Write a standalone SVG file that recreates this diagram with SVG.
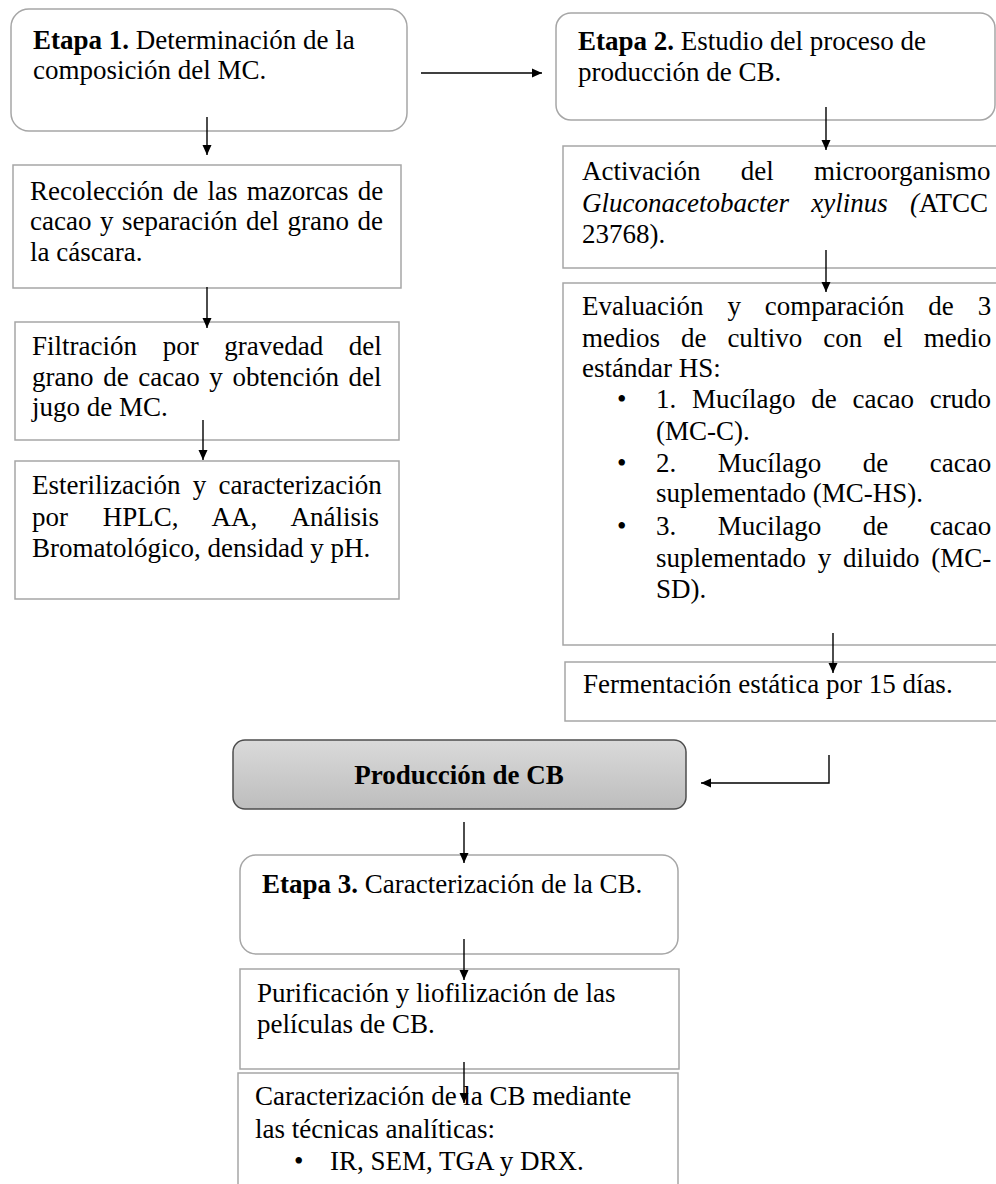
<svg xmlns="http://www.w3.org/2000/svg" width="996" height="1184" viewBox="0 0 996 1184">
<defs>
<linearGradient id="gp" x1="0" y1="0" x2="0" y2="1">
<stop offset="0" stop-color="#dadada"/>
<stop offset="1" stop-color="#bdbdbd"/>
</linearGradient>
<marker id="ah" markerWidth="10" markerHeight="10" refX="10" refY="5" orient="auto" markerUnits="userSpaceOnUse">
<path d="M0,0.5 L10,5 L0,9.5 Z" fill="#000"/>
</marker>
</defs>
<style>
text{font-family:"Liberation Serif","Times New Roman",serif;font-size:27px;fill:#000}
.b{font-weight:bold}
.i{font-style:italic}
.box{fill:#fff;stroke:#a6a6a6;stroke-width:1.5}
.cn{fill:none;stroke:#000;stroke-width:1.4}
</style>
<rect width="996" height="1184" fill="#fff"/>

<g id="etapa1">
<rect class="box" x="11" y="9" width="396" height="122" rx="18"/>
<text x="33" y="49"><tspan class="b">Etapa 1.</tspan> Determinación de la</text>
<text x="33" y="79">composición del MC.</text>
</g>

<g id="recoleccion">
<rect class="box" x="13" y="165" width="388" height="123"/>
<text x="30" y="200" word-spacing="2.5">Recolección de las mazorcas de</text>
<text x="30" y="230" word-spacing="1.8">cacao y separación del grano de</text>
<text x="30" y="261">la cáscara.</text>
</g>

<g id="filtracion">
<rect class="box" x="15" y="322" width="384" height="118"/>
<text x="32" y="355" word-spacing="18.9">Filtración por gravedad del</text>
<text x="32" y="386" word-spacing="2.9">grano de cacao y obtención del</text>
<text x="32" y="416">jugo de MC.</text>
</g>

<g id="esterilizacion">
<rect class="box" x="15" y="461" width="384" height="138"/>
<text x="32" y="494" word-spacing="5.5">Esterilización y caracterización</text>
<text x="32" y="526" word-spacing="27.9">por HPLC, AA, Análisis</text>
<text x="32" y="557">Bromatológico, densidad y pH.</text>
</g>

<g id="etapa2">
<rect class="box" x="556" y="13" width="439" height="107" rx="15"/>
<text x="578" y="50"><tspan class="b">Etapa 2.</tspan> Estudio del proceso de</text>
<text x="578" y="81">producción de CB.</text>
</g>

<g id="activacion">
<rect class="box" x="563" y="146" width="450" height="122"/>
<text x="582" y="180" word-spacing="33.5">Activación del microorganismo</text>
<text x="582" y="212" word-spacing="15.5"><tspan class="i">Gluconacetobacter xylinus (</tspan>ATCC</text>
<text x="582" y="243">23768).</text>
</g>

<g id="evaluacion">
<rect class="box" x="563" y="283" width="450" height="362"/>
<text x="582" y="315" word-spacing="17.2">Evaluación y comparación de 3</text>
<text x="582" y="347" word-spacing="14.2">medios de cultivo con el medio</text>
<text x="582" y="377">estándar HS:</text>
<text x="617" y="408">•</text>
<text x="656" y="408" word-spacing="9">1. Mucílago de cacao crudo</text>
<text x="656" y="440">(MC-C).</text>
<text x="617" y="472">•</text>
<text x="656" y="472" word-spacing="34.8">2. Mucílago de cacao</text>
<text x="656" y="502">suplementado (MC-HS).</text>
<text x="617" y="535">•</text>
<text x="656" y="535" word-spacing="34.8">3. Mucilago de cacao</text>
<text x="656" y="567" word-spacing="5">suplementado y diluido (MC-</text>
<text x="656" y="598">SD).</text>
</g>

<g id="fermentacion">
<rect class="box" x="565" y="662" width="450" height="59"/>
<text x="583" y="693">Fermentación estática por 15 días.</text>
</g>

<g id="produccion">
<rect x="233" y="740" width="453" height="69" rx="12" fill="url(#gp)" stroke="#4d4d4d" stroke-width="1.5"/>
<text class="b" x="459" y="784" text-anchor="middle">Producción de CB</text>
</g>

<g id="etapa3">
<rect class="box" x="240" y="855" width="438" height="99" rx="16"/>
<text x="262" y="893"><tspan class="b">Etapa 3.</tspan> Caracterización de la CB.</text>
</g>

<g id="purificacion">
<rect class="box" x="240" y="969" width="439" height="100"/>
<text x="257" y="1002">Purificación y liofilización de las</text>
<text x="257" y="1033">películas de CB.</text>
</g>

<g id="caracterizacion">
<rect class="box" x="238" y="1073" width="440" height="130"/>
<text x="255" y="1105">Caracterización de la CB mediante</text>
<text x="255" y="1138">las técnicas analíticas:</text>
<text x="294" y="1170">•</text>
<text x="330" y="1170">IR, SEM, TGA y DRX.</text>
</g>

<g id="connectors">
<path class="cn" d="M207,117 V155" marker-end="url(#ah)"/>
<path class="cn" d="M207,287 V328" marker-end="url(#ah)"/>
<path class="cn" d="M203,420 V460" marker-end="url(#ah)"/>
<path class="cn" d="M421,73 H542" marker-end="url(#ah)"/>
<path class="cn" d="M826,107 V150" marker-end="url(#ah)"/>
<path class="cn" d="M826,250 V292" marker-end="url(#ah)"/>
<path class="cn" d="M833,633 V673" marker-end="url(#ah)"/>
<path class="cn" d="M829,755 V783 H701" marker-end="url(#ah)"/>
<path class="cn" d="M464,822 V863" marker-end="url(#ah)"/>
<path class="cn" d="M464,939 V980" marker-end="url(#ah)"/>
<path class="cn" d="M464,1062 V1103" marker-end="url(#ah)"/>
</g>
</svg>
